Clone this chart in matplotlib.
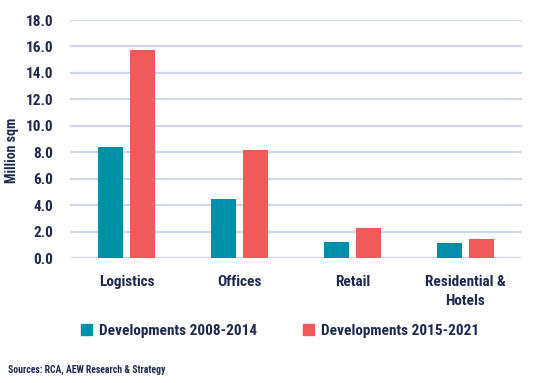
import matplotlib
matplotlib.use("Agg")
import matplotlib.pyplot as plt
import numpy as np
from matplotlib.patches import Patch

plt.rcParams['font.family'] = ['Roboto Condensed', 'Roboto', 'DejaVu Sans']

categories = ["Logistics", "Offices", "Retail", "Residential &\nHotels"]
series_names = ["Developments 2008-2014", "Developments 2015-2021"]
dev_2008_2014 = [8.4, 4.5, 1.2, 1.1]
dev_2015_2021 = [15.7, 8.2, 2.3, 1.4]
yticks = [0, 2, 4, 6, 8, 10, 12, 14, 16, 18]

teal = "#008FA8"
red = "#F05A5B"
grid = "#D0D7EA"
txt = "#1F2850"
W = 'semibold'

fig = plt.figure(figsize=(5.46, 3.83), dpi=100)
ax = fig.add_axes([70/546, 1-258/383, 452/546, 238/383])

x = np.arange(len(categories))
w = 0.22
ax.bar(x - 0.142, dev_2008_2014, w, color=teal, zorder=3)
ax.bar(x + 0.142, dev_2015_2021, w, color=red, zorder=3)

ax.set_xlim(-0.5, 3.5)
ax.set_ylim(0, 18)
ax.set_yticks(yticks)
ax.set_yticklabels([f"{v:.1f}" for v in yticks], fontsize=11, color=txt, fontweight=W)
ax.set_xticks(x)
ax.set_xticklabels(categories, fontsize=11, color=txt, fontweight=W, linespacing=1.5)
ax.tick_params(axis='both', length=0)
ax.tick_params(axis='y', pad=12)
ax.tick_params(axis='x', pad=12)
for s in ax.spines.values():
    s.set_visible(False)
ax.grid(axis='y', color=grid, linewidth=1.6, zorder=0)
ax.set_axisbelow(True)
ax.set_ylabel("Million sqm", fontsize=10, color=txt, fontweight=W)
ax.yaxis.set_label_coords(-0.113, 0.454)

for i, (name, col, xpos) in enumerate(zip(series_names, [teal, red], [81, 303])):
    leg = fig.legend([Patch(color=col)], [name], loc='center left',
                     bbox_to_anchor=(xpos/546, 1-331/383), frameon=False,
                     handlelength=0.75, handleheight=0.75, handletextpad=0.4,
                     borderaxespad=0, borderpad=0,
                     prop={'weight': W, 'size': 11})
    for t in leg.get_texts():
        t.set_color(txt)

fig.text(8/546, 1-370/383, "Sources: RCA, AEW Research & Strategy", fontsize=7,
         color=txt, fontweight=W, va='center')

fig.savefig("out.png", dpi=100)
